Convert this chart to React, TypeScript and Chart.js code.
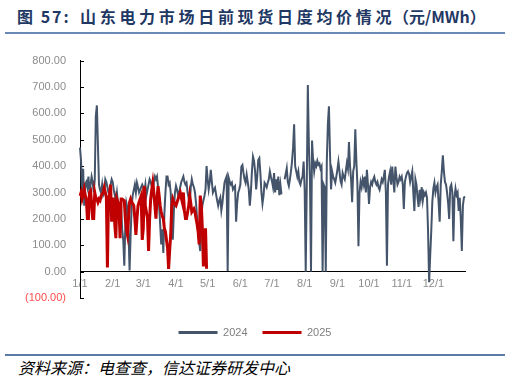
import React, { useEffect, useRef } from "react";
import { Chart, registerables } from "chart.js";

Chart.register(...registerables);

const monthDays = [31, 29, 31, 30, 31, 30, 31, 31, 30, 31, 30, 31];
const tickLabels = ["1/1", "2/1", "3/1", "4/1", "5/1", "6/1", "7/1", "8/1", "9/1", "10/1", "11/1", "12/1"];
const categories: string[] = [];
monthDays.forEach((n, m) => {
  for (let d = 1; d <= n; d++) categories.push(`${m + 1}/${d}`);
});

const seriesNames = ["2024", "2025"];

const jan24 = [470, 420, 300, 390, 250, 330, 340, 320, 360, 300, 330, 360, 340, 300, 350, 590, 630, 480, 330, 310, 300, 330, 290, 300, 350, 340, 320, 300, 300, 330, 350];
const feb24 = [340, 310, 290, 270, 300, 260, 230, 200, 250, 160, 120, 22, 180, 260, 240, 150, 4, 140, 250, 290, 310, 330, 300, 337, 320, 300, 310, 320, 330];
const mar24 = [320, 300, 330, 290, 310, 330, 350, 340, 325, 300, 340, 361, 350, 361, 320, 250, 180, 103, 160, 71, 220, 300, 361, 361, 330, 337, 300, 200, 121, 230, 300];
const apr24 = [325, 310, 290, 300, 320, 340, 350, 361, 340, 330, 337, 300, 280, 250, 320, 350, 330, 320, 300, 260, 200, 150, 110, 78, 201, 250, 270, 287, 312, 400];
const may24 = [350, 312, 340, 386, 340, 300, 310, 318, 293, 270, 250, 270, 281, 232, 260, 300, 337, 350, 361, 2, 355, 340, 330, 337, 312, 320, 325, 189, 260, 300, 312];
const jun24 = [330, 398, 404, 374, 350, 337, 368, 340, 312, 250, 300, 380, 436, 420, 380, 312, 360, 423, 430, 374, 300, 258, 288, 337, 330, 320, 337, 350, 380, 360];
const jul24 = [343, 320, 374, 300, 350, 310, 360, 290, 330, 293, null, null, 350, 370, 392, 340, 325, 350, 380, 417, 470, 559, 400, 380, 360, 380, 340, 330, 349, 360, 417];
const aug24 = [311, 0, 330, 707, 480, 350, 0, 497, 420, 380, 411, 400, 420, 405, 410, 390, 399, 0, 330, 320, 0, 420, 560, 627, 450, 312, 380, 360, 350, 337, 360];
const sep24 = [386, 417, 380, 343, 330, 374, 360, 350, 380, 411, 390, 491, 400, 350, 263, 380, 400, 540, 420, 330, 96, 300, 340, 320, 350, 330, 360, 300, 386, 330];
const oct24 = [257, 320, 340, 330, 350, 360, 340, 330, 340, 320, 310, 330, 350, 340, 360, 386, 300, 22, 330, 360, 380, 330, 398, 350, 300, 398, 360, 330, 340, 360, 350];
const nov24 = [360, 330, 238, 340, 360, 374, 380, 370, 340, 360, 380, 300, 230, 350, 330, 280, 245, 310, 280, 320, 270, 300, 290, 300, 280, 150, -40, 60, 152, 263];
const dec24 = [315, 337, 300, 320, 330, 260, 189, 330, 380, 441, 380, 340, 330, 300, 260, 200, 320, 330, 300, 115, 280, 315, 290, 300, 230, 280, 200, 78, 250, 281, 285];

const jan25 = [287, 300, 275, 290, 312, 290, 275, 201, 201, 300, 306, 260, 201, 201, 300, 280, 275, 263, 275, 270, 287, 295, 300, 318, 300, 281, 16, 275, 294, 330, 189];
const feb25 = [275, 275, 176, 127, 275, 263, 238, 127, 275, 275, 272, 269, 201, 160, 139, 201, 263, 275, 263, 258, 250, 200, 139, 201, 250, 263, 275, 287];
const mar25 = [120, 164, 324, 250, 225, 201, 78, 200, 275, 310, 337, 300, 250, 201, 275, 324, 290, 250, 226, 210, 201, 164, 152, 120, 90, 10, 80, 139, 250, 275, 263];
const apr25 = [255, 250, 263, 275, 290, 300, 280, 263, 300, 230, 201, 201, 225, 250, 287, 260, 226, 232, 238, 226, 201, 180, 152, 103, 288, 250, 164, 20, 120, 164, 11];

const values2024 = [...jan24, ...feb24, ...mar24, ...apr24, ...may24, ...jun24, ...jul24, ...aug24, ...sep24, ...oct24, ...nov24, ...dec24];
const values2025 = [...jan25, ...feb25, ...mar25, ...apr25];

const yMin = -100;
const yMax = 800;
const yStep = 100;

const FONT = "'Liberation Sans', Arial, sans-serif";
const CJK = "'Noto Sans CJK SC', sans-serif";

const innerTicks = {
  id: "innerTicks",
  beforeDatasetsDraw(chart: any) {
    const y = chart.scales.y;
    const ctx = chart.ctx;
    const x0 = chart.chartArea.left;
    ctx.save();
    ctx.strokeStyle = "#000";
    ctx.lineWidth = 1;
    y.ticks.forEach((t: any) => {
      const py = Math.round(y.getPixelForValue(t.value)) + 0.5;
      ctx.beginPath();
      ctx.moveTo(x0, py);
      ctx.lineTo(x0 + 4, py);
      ctx.stroke();
    });
    ctx.restore();
  },
};

const padAxis = (size: number, horizontal: boolean) => ({
  type: "linear" as const,
  display: true,
  grid: { display: false, drawTicks: false },
  border: { display: false },
  ticks: { display: false },
  afterFit: (s: any) => {
    if (horizontal) s.height = size;
    else s.width = size;
  },
});

export default function App() {
  const ref = useRef<HTMLCanvasElement | null>(null);

  useEffect(() => {
    if (!ref.current) return;
    const chart = new Chart(ref.current, {
      type: "line",
      data: {
        labels: categories,
        datasets: [
          {
            label: seriesNames[0],
            data: values2024,
            borderColor: "#44546A",
            backgroundColor: "#44546A",
            borderWidth: 2,
            pointRadius: 0,
            tension: 0,
            spanGaps: false,
            order: 1,
            xAxisID: "x",
            yAxisID: "y",
          },
          {
            label: seriesNames[1],
            data: values2025,
            borderColor: "#C00000",
            backgroundColor: "#C00000",
            borderWidth: 3,
            pointRadius: 0,
            tension: 0,
            order: 0,
            xAxisID: "x",
            yAxisID: "y",
          },
        ],
      },
      options: {
        animation: false,
        responsive: false,
        maintainAspectRatio: false,
        layout: { padding: { top: 8, right: 0, left: 0, bottom: 2 } },
        plugins: {
          tooltip: { enabled: false },
          legend: {
            position: "bottom",
            labels: {
              boxWidth: 39,
              boxHeight: 3,
              padding: 15,
              color: "#7F7F7F",
              font: { size: 11, family: FONT },
              sort: (a: any, b: any) => a.datasetIndex - b.datasetIndex,
              generateLabels: (c: any) =>
                c.data.datasets.map((ds: any, i: number) => ({
                  text: ds.label,
                  fillStyle: ds.borderColor,
                  strokeStyle: ds.borderColor,
                  lineWidth: 0,
                  hidden: false,
                  datasetIndex: i,
                  fontColor: "#7F7F7F",
                })),
            },
          },
        },
        scales: {
          x: {
            type: "category",
            position: { y: 0 } as any,
            offset: false,
            grid: {
              display: true,
              drawOnChartArea: false,
              drawTicks: true,
              tickLength: 4,
              tickColor: (c: any) => (tickLabels.includes(categories[c.index]) ? "#000" : "rgba(0,0,0,0)"),
            },
            border: { display: true, color: "#000", width: 1 },
            ticks: {
              autoSkip: false,
              maxRotation: 0,
              minRotation: 0,
              padding: 2,
              color: "#8C8C8C",
              font: { size: 11, family: FONT },
              callback: (v: any, i: number) => (tickLabels.includes(categories[i]) ? categories[i] : null),
            },
          },
          xPad: { ...padAxis(14, true), position: "bottom" },
          y: {
            min: yMin,
            max: yMax,
            position: "left",
            afterFit: (s: any) => {
              s.width = 80;
            },
            grid: { display: false, drawTicks: false },
            border: { display: true, color: "#000", width: 1 },
            ticks: {
              stepSize: yStep,
              padding: 14,
              color: (c: any) => (c.tick && c.tick.value < 0 ? "#FF4B4B" : "#8C8C8C"),
              font: { size: 11, family: FONT },
              callback: (v: any) => {
                const n = Number(v);
                return n < 0 ? `(${Math.abs(n).toFixed(2)})` : n.toFixed(2);
              },
            },
          },
          yPad: { ...padAxis(45, false), position: "right" },
        } as any,
      },
      plugins: [innerTicks],
    });
    return () => chart.destroy();
  }, []);

  const titleBase: React.CSSProperties = {
    position: "absolute",
    top: 4,
    fontFamily: CJK,
    fontWeight: 700,
    fontSize: 16,
    lineHeight: "24px",
    color: "#1F3864",
    whiteSpace: "nowrap",
  };

  return (
    <div style={{ position: "fixed", left: 0, top: 0, width: 510, height: 380, background: "#fff", overflow: "hidden" }}>
      <div style={{ ...titleBase, left: 17, letterSpacing: "2px" }}>图 57:</div>
      <div style={{ ...titleBase, left: 80, letterSpacing: "3.7px" }}>山东电力市场日前现货日度均价情况</div>
      <div style={{ ...titleBase, left: 393 }}>（元/MWh）</div>
      <div style={{ position: "absolute", left: 5, top: 32, width: 500, height: 2, background: "#6A8AB5" }} />
      <canvas ref={ref} width={510} height={310} style={{ position: "absolute", left: 0, top: 40, width: 510, height: 310 }} />
      <div style={{ position: "absolute", left: 5, top: 354, width: 500, height: 2, background: "#5A7BA6" }} />
      <div
        style={{
          position: "absolute",
          left: 18,
          top: 357,
          fontFamily: CJK,
          fontStyle: "italic",
          fontSize: 16,
          lineHeight: "20px",
          color: "#000",
          whiteSpace: "nowrap",
        }}
      >
        资料来源：电查查，信达证券研发中心
      </div>
    </div>
  );
}
